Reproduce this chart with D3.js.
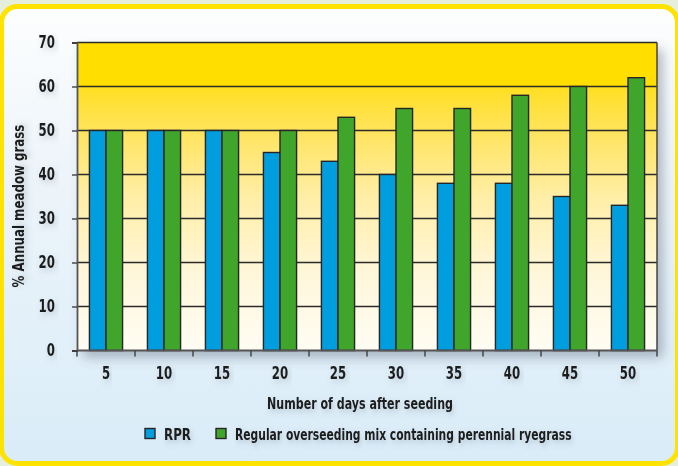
<!DOCTYPE html>
<html>
<head>
<meta charset="utf-8">
<script src="https://cdn.jsdelivr.net/npm/d3@7"></script>
<style>
  html, body { margin: 0; padding: 0; background: #e6eedc; }
  svg { display: block; }
  text { font-family: "DejaVu Sans Condensed", "DejaVu Sans", sans-serif; font-stretch: condensed; font-weight: bold; fill: #1c1c1c; }
</style>
</head>
<body>
<svg id="chart" width="678" height="466"></svg>
<script>
// Days after seeding (categories)
const days = ["5", "10", "15", "20", "25", "30", "35", "40", "45", "50"];
// % annual meadow grass per treatment
const rpr = [50, 50, 50, 45, 43, 40, 38, 38, 35, 33];
const regularMix = [50, 50, 50, 50, 53, 55, 55, 58, 60, 62];
const seriesNames = ["RPR", "Regular overseeding mix containing perennial ryegrass"];
const seriesColors = ["#009ddf", "#40a52b"];
const yTicks = [0, 10, 20, 30, 40, 50, 60, 70];

const W = 678, H = 466;
const margin = { left: 77, right: 21, top: 42.5, bottom: 115.5 };
const plotW = W - margin.left - margin.right;
const plotH = H - margin.top - margin.bottom;

// squeeze a label to a set width (narrow display face)
function fit(sel, perChar) {
  sel.each(function () {
    const t = d3.select(this);
    const n = t.text().length;
    t.attr("textLength", n * perChar).attr("lengthAdjust", "spacingAndGlyphs");
  });
}

// place a horizontally compressed label: group at (x, y) scaled so text spans `width`
function narrowLabel(parent, x, y, width, size, str, anchor) {
  const grp = parent.append("g");
  const t = grp.append("text").attr("font-size", size)
    .attr("text-anchor", anchor || "start")
    .attr("filter", "url(#textShadow)").text(str);
  const natural = t.node().getComputedTextLength();
  grp.attr("transform", `translate(${x},${y}) scale(${width / natural},1)`);
  return grp;
}

const svg = d3.select("#chart");
const defs = svg.append("defs");

// card background
const cardGrad = defs.append("linearGradient").attr("id", "cardGrad")
  .attr("x1", 0).attr("y1", 0).attr("x2", 0).attr("y2", 1);
cardGrad.append("stop").attr("offset", 0).attr("stop-color", "#fdfefe");
cardGrad.append("stop").attr("offset", 0.35).attr("stop-color", "#eef5fa");
cardGrad.append("stop").attr("offset", 1).attr("stop-color", "#d9ecf8");

// plot background
const plotGrad = defs.append("linearGradient").attr("id", "plotGrad")
  .attr("x1", 0).attr("y1", 0).attr("x2", 0).attr("y2", 1);
[[0, "#ffde00"], [0.142, "#ffde00"], [0.145, "#ffdf22"], [0.3, "#ffe461"],
 [0.5, "#ffeea6"], [0.75, "#fff7da"], [1, "#fffdf4"]].forEach(([o, c]) =>
  plotGrad.append("stop").attr("offset", o).attr("stop-color", c));

const shadow = defs.append("filter").attr("id", "shadow")
  .attr("x", "-10%").attr("y", "-10%").attr("width", "130%").attr("height", "140%");
shadow.append("feDropShadow").attr("dx", 6).attr("dy", 7).attr("stdDeviation", 6)
  .attr("flood-color", "#4a5a6a").attr("flood-opacity", 0.4);

const textShadow = defs.append("filter").attr("id", "textShadow")
  .attr("x", "-20%").attr("y", "-40%").attr("width", "140%").attr("height", "180%");
textShadow.append("feDropShadow").attr("dx", 2).attr("dy", 3).attr("stdDeviation", 3)
  .attr("flood-color", "#5a6a7a").attr("flood-opacity", 0.3);

// card
svg.append("rect")
  .attr("x", 1.5).attr("y", 6.5).attr("width", W - 2).attr("height", H - 9)
  .attr("rx", 16).attr("ry", 16)
  .attr("fill", "url(#cardGrad)")
  .attr("stroke", "#ffe300").attr("stroke-width", 5);

const x = d3.scaleBand().domain(days).range([0, plotW]).paddingInner(0).paddingOuter(0);
const xSub = d3.scaleBand().domain([0, 1]).range([0, x.bandwidth()]).paddingOuter(0.75).paddingInner(0);
const y = d3.scaleLinear().domain([0, 70]).range([plotH, 0]);

const g = svg.append("g").attr("transform", `translate(${margin.left},${margin.top})`);

// plot area with drop shadow
g.append("rect").attr("width", plotW).attr("height", plotH)
  .attr("fill", "url(#plotGrad)").attr("filter", "url(#shadow)");

// gridlines
g.selectAll("line.grid").data(yTicks.filter(d => d > 0)).join("line")
  .attr("class", "grid")
  .attr("x1", 0).attr("x2", plotW)
  .attr("y1", d => y(d)).attr("y2", d => y(d))
  .attr("stroke", "#2b2b2b").attr("stroke-width", 1.3);

// right border
g.append("line").attr("x1", plotW).attr("x2", plotW).attr("y1", 0).attr("y2", plotH)
  .attr("stroke", "#444").attr("stroke-width", 1.5);

// bars
const series = [rpr, regularMix];
series.forEach((vals, si) => {
  g.append("g").selectAll("rect").data(vals).join("rect")
    .attr("x", (d, i) => x(days[i]) + xSub(si))
    .attr("y", d => y(d))
    .attr("width", xSub.bandwidth())
    .attr("height", d => y(0) - y(d))
    .attr("fill", seriesColors[si])
    .attr("stroke", "#262626").attr("stroke-width", 1.4);
});

// y axis
const yAxis = g.append("g")
  .call(d3.axisLeft(y).tickValues(yTicks).tickSize(5).tickPadding(17).tickFormat(d3.format("d")));
yAxis.select(".domain").attr("stroke", "#555").attr("stroke-width", 1.8);
yAxis.selectAll(".tick line").attr("stroke", "#333").attr("stroke-width", 1.3);
yAxis.selectAll(".tick text").attr("font-size", 17).attr("fill", "#1c1c1c")
  .attr("filter", "url(#textShadow)").call(fit, 8.2);

// x axis: ticks at category boundaries, labels at centers
const xAxisG = g.append("g").attr("transform", `translate(0,${plotH})`);
xAxisG.append("line").attr("x1", 0).attr("x2", plotW)
  .attr("stroke", "#555").attr("stroke-width", 1.8);
const bounds = days.map(d => x(d)).concat([plotW]);
xAxisG.selectAll("line.tk").data(bounds).join("line")
  .attr("class", "tk")
  .attr("x1", d => d).attr("x2", d => d).attr("y1", 0).attr("y2", 6)
  .attr("stroke", "#444").attr("stroke-width", 1.5);
xAxisG.selectAll("text").data(days).join("text")
  .attr("x", d => x(d) + x.bandwidth() / 2)
  .attr("y", 28)
  .attr("text-anchor", "middle")
  .attr("font-size", 17)
  .attr("filter", "url(#textShadow)")
  .text(d => d)
  .call(fit, 8.2);

// axis titles
narrowLabel(svg, 360, 409, 186, 16.5, "Number of days after seeding", "middle");

const yTitle = svg.append("g").attr("transform", "translate(24,206) rotate(-90)");
narrowLabel(yTitle, 0, 0, 163, 15.5, "% Annual meadow grass", "middle");

// legend
const legendX = [145, 216];
const legendLen = [27, 337];
const legend = svg.append("g");
seriesNames.forEach((name, i) => {
  legend.append("rect")
    .attr("x", legendX[i]).attr("y", 428.5)
    .attr("width", 10).attr("height", 10)
    .attr("fill", seriesColors[i]).attr("stroke", "#262626").attr("stroke-width", 1.4);
  narrowLabel(legend, legendX[i] + 19, 440, legendLen[i], 16.5, name, "start");
});
</script>
</body>
</html>
